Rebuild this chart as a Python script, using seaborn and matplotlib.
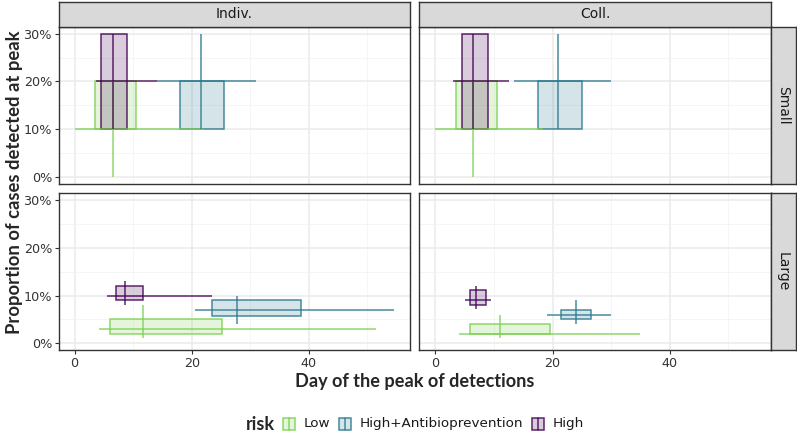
import numpy as np
import pandas as pd
import matplotlib
matplotlib.use("Agg")
import matplotlib.pyplot as plt
from matplotlib.colors import to_rgba
from matplotlib.patches import Rectangle
import seaborn as sns

# ---------------- data ----------------
strategies = ["Indiv.", "Coll.", "Indiv.", "Coll.", "Indiv.", "Coll.", "Indiv.", "Coll.", "Indiv.", "Coll.", "Indiv.", "Coll."]
sizes      = ["Small", "Small", "Small", "Small", "Small", "Small", "Large", "Large", "Large", "Large", "Large", "Large"]
risks      = ["Low", "Low", "High+Antibioprevention", "High+Antibioprevention", "High", "High",
              "Low", "Low", "High+Antibioprevention", "High+Antibioprevention", "High", "High"]
# day of the peak: quartiles / median / range
x_q25 = [3.5, 3.5, 18.0, 17.5, 4.5, 4.5, 6.1, 6.0, 23.5, 21.4, 7.0, 6.0]
x_med = [6.5, 6.5, 21.5, 21.0, 6.5, 6.5, 11.6, 11.0, 27.7, 24.0, 8.6, 7.0]
x_q75 = [10.5, 10.5, 25.5, 25.0, 9.0, 9.0, 25.1, 19.6, 38.6, 26.5, 11.6, 8.6]
x_min = [0.0, 0.0, 14.1, 13.5, 3.6, 3.0, 4.1, 4.0, 20.5, 19.0, 5.5, 5.0]
x_max = [21.9, 18.4, 31.0, 30.0, 14.0, 12.5, 51.5, 34.9, 54.5, 29.9, 23.5, 9.5]
# proportion detected at peak (%)
y_q25 = [10, 10, 10, 10, 10, 10, 2.0, 2.0, 5.8, 5.0, 9.0, 8.0]
y_med = [10, 10, 20, 20, 20, 20, 3.0, 2.0, 7.0, 6.0, 10.0, 9.0]
y_q75 = [20, 20, 20, 20, 30, 30, 5.1, 4.1, 9.1, 7.0, 12.0, 11.1]
y_min = [0, 0, 10, 10, 10, 10, 1.1, 1.1, 4.1, 4.0, 8.1, 7.1]
y_max = [20, 20, 30, 30, 30, 30, 8.1, 6.0, 10.0, 9.0, 13.1, 12.1]

risk_levels = ["Low", "High+Antibioprevention", "High"]
risk_colors = ["#7AD151", "#2A788E", "#440154"]
col_order = ["Indiv.", "Coll."]
row_order = ["Small", "Large"]
x_ticks = [0, 20, 40]
y_ticks = [0, 10, 20, 30]
y_tick_labels = ["0%", "10%", "20%", "30%"]

df = pd.DataFrame(dict(strategy=strategies, size=sizes, risk=risks,
                       x_q25=x_q25, x_med=x_med, x_q75=x_q75, x_min=x_min, x_max=x_max,
                       y_q25=y_q25, y_med=y_med, y_q75=y_q75, y_min=y_min, y_max=y_max))
cmap = dict(zip(risk_levels, risk_colors))

# ---------------- style ----------------
sns.set_theme(style="white")
plt.rcParams["font.family"] = ["DejaVu Sans"]

W, H = 797, 441
LW = 1.1
TITLE_FONT = ["Lato", "DejaVu Sans"]


def draw(data, **kw):
    ax = plt.gca()
    rows = [data[data.risk == r].iloc[0] for r in risk_levels if (data.risk == r).any()]
    for r in rows:
        c = cmap[r.risk]
        ax.bar(r.x_q25, r.y_q75 - r.y_q25, width=r.x_q75 - r.x_q25, bottom=r.y_q25,
               align="edge", facecolor=to_rgba(c, 0.2), edgecolor=to_rgba(c, 0.85),
               linewidth=LW, zorder=2)
    for r in rows:
        c = cmap[r.risk]
        ax.hlines(r.y_med, r.x_min, r.x_max, color=to_rgba(c, 0.85), lw=LW, zorder=3)
    for r in rows:
        c = cmap[r.risk]
        ax.vlines(r.x_med, r.y_min, r.y_max, color=to_rgba(c, 0.85), lw=LW, zorder=3)


g = sns.FacetGrid(df, row="size", col="strategy", row_order=row_order, col_order=col_order,
                  sharex=True, sharey=True, height=2, aspect=1.8, despine=False)
g.map_dataframe(draw)
g.set_titles("")
g.set_axis_labels("", "")
fig = g.figure
fig.set_size_inches(W / 100, H / 100)
fig.set_dpi(100)

# limits with ggplot 5% expansion
xl0, xl1 = min(x_min), max(x_max)
yl0, yl1 = 0, 30
dx = 0.05 * (xl1 - xl0)
dy = 0.05 * (yl1 - yl0)


def px(l, t, r, b):
    return [l / W, 1 - b / H, (r - l) / W, (b - t) / H]


col_px = [(58.7, 409.7), (419.3, 770.7)]
row_px = [(26.7, 183.7), (193.3, 350.3)]

for i in range(2):
    for j in range(2):
        ax = g.axes[i, j]
        (l, r), (t, b) = col_px[j], row_px[i]
        ax.set_position(px(l, t, r, b))
        ax.set_xlim(xl0 - dx, xl1 + dx)
        ax.set_ylim(yl0 - dy, yl1 + dy)
        ax.set_xticks(x_ticks)
        ax.set_xticks([10, 30, 50], minor=True)
        ax.set_yticks(y_ticks)
        ax.set_yticks([5, 15, 25], minor=True)
        ax.grid(True, which="major", color="#EBEBEB", lw=1.1, zorder=0)
        ax.grid(True, which="minor", color="#F2F2F2", lw=0.55, zorder=0)
        ax.set_axisbelow(True)
        for s in ax.spines.values():
            s.set_color("#333333")
            s.set_linewidth(1.0)
            s.set_visible(True)
        ax.tick_params(which="minor", length=0)
        ax.tick_params(which="major", length=2.8, width=0.8, color="#333333",
                       labelsize=9.2, labelcolor="#333333", pad=2)
        if j == 0:
            ax.set_yticklabels(y_tick_labels)
            ax.tick_params(axis="y", left=True, labelleft=True)
        else:
            ax.tick_params(axis="y", left=False, labelleft=False)
        if i == 1:
            ax.tick_params(axis="x", bottom=True, labelbottom=True)
            ax.set_xticklabels([str(v) for v in x_ticks])
        else:
            ax.tick_params(axis="x", bottom=False, labelbottom=False)

# strips
for j, name in enumerate(col_order):
    l, r = col_px[j]
    sax = fig.add_axes(px(l, 1.5, r, 26.7))
    sax.set_facecolor("#D9D9D9")
    sax.set_xticks([]); sax.set_yticks([])
    for s in sax.spines.values():
        s.set_color("#333333"); s.set_linewidth(1.0)
    sax.text(0.5, 0.5, name, ha="center", va="center", fontsize=10, color="#1A1A1A",
             transform=sax.transAxes)
for i, name in enumerate(row_order):
    t, b = row_px[i]
    sax = fig.add_axes(px(770.7, t, 795.5, b))
    sax.set_facecolor("#D9D9D9")
    sax.set_xticks([]); sax.set_yticks([])
    for s in sax.spines.values():
        s.set_color("#333333"); s.set_linewidth(1.0)
    sax.text(0.5, 0.5, name, ha="center", va="center", fontsize=10, color="#1A1A1A",
             rotation=-90, transform=sax.transAxes)

# axis titles
fig.text(414.7 / W, 1 - 381.7 / H, "Day of the peak of detections", ha="center", va="center",
         fontsize=13.1, fontweight="bold", family=TITLE_FONT)
fig.text(14.5 / W, 1 - 182.5 / H, "Proportion of cases detected at peak", ha="center", va="center",
         rotation=90, fontsize=13.3, fontweight="bold", family=TITLE_FONT)

# legend (manual, horizontal, title on the left)
lax = fig.add_axes([0, 0, 1, 1], facecolor="none")
lax.set_xlim(0, W); lax.set_ylim(H, 0)
lax.axis("off")
ly = 423.5
lax.text(245.5, ly + 1, "risk", ha="left", va="center", fontsize=13, fontweight="bold",
         family=TITLE_FONT)
key_x = [282.7, 339.0, 531.7]
for kx, rname, c in zip(key_x, risk_levels, risk_colors):
    lax.add_patch(Rectangle((kx, ly - 6), 12, 12, facecolor=to_rgba(c, 0.2),
                            edgecolor=to_rgba(c, 0.85), lw=LW))
    lax.plot([kx + 6, kx + 6], [ly - 6, ly + 6], color=to_rgba(c, 0.85), lw=LW)
    lax.text(kx + 21, ly, rname, ha="left", va="center", fontsize=9.7, color="#1A1A1A")

fig.savefig("out.png", dpi=100)
